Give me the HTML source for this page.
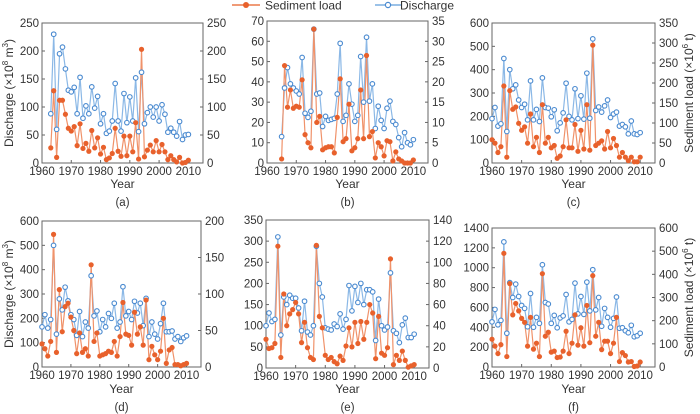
<!DOCTYPE html>
<html><head><meta charset="utf-8">
<style>
body{margin:0;background:#fff;}
svg{display:block;font-family:"Liberation Sans",Arial,sans-serif;}
</style></head>
<body>
<svg id="chart" width="700" height="414" viewBox="0 0 700 414">
  <g>
    <g>
      <line x1="232" y1="5" x2="260" y2="5" stroke="#ec7a4a" stroke-width="1.5"/>
      <circle cx="246" cy="5" r="3" fill="#e8612c"/>
      <text x="265" y="9.5" font-size="12" fill="#333">Sediment load</text>
    </g>
    <g>
      <line x1="375" y1="5" x2="402" y2="5" stroke="#7aaee0" stroke-width="1.5"/>
      <circle cx="388" cy="5" r="2.6" fill="#fff" stroke="#4a8ad0" stroke-width="1.2"/>
      <text x="400" y="9.5" font-size="12" fill="#333">Discharge</text>
    </g>
  </g>
</svg>
<script>
// Panel (a) 1963-2010
const disA=[88,230,60,195,207,168,130,127,135,88,153,80,102,88,136,98,119,70,88,53,57,75,142,75,57,124,72,118,75,152,56,162,70,90,100,82,100,75,104,87,55,62,55,48,74,42,50,51];
const sedA=[27,129,10,112,112,87,62,57,65,31,70,26,35,21,58,27,45,16,28,6,9,17,62,21,12,48,13,48,20,72,7,203,11,23,32,20,40,20,33,20,6,13,6,2,10,0,1,5];
// Panel (b) 1965-2010 (values in left-axis units)
const disB=[13,37,47,39,37,35.5,34,52,24.5,22.5,25.5,66,34,34.5,18,23,21,21.5,22,34,59,20.5,23.5,39,29,20.5,23.5,52.5,30,62,30.5,39,17,28,21,17,27,30.5,20.5,19,12.5,8,15,10,9,11.5];
const sedB=[2,48,27.5,36,27,28,27.5,41,14,10,7.5,66,20,23,6.5,7.5,8,8,5,22.5,41.5,10.5,12,29,6,7.5,12,36,12,53,13,15.5,2.5,10,8,3.5,11,10.5,1,5.5,2,1,0,0,0,1.5];
// Panel (c) 1960-2010
const disC=[190,238,158,168,448,135,400,318,335,270,238,252,185,352,185,230,178,365,238,235,198,228,138,172,215,342,200,185,318,190,288,188,385,192,532,225,240,218,245,270,195,210,218,158,165,155,125,180,125,122,130];
const sedC=[100,85,45,70,330,25,310,230,240,170,140,155,85,210,70,110,45,250,85,110,65,75,20,30,70,185,65,65,165,50,140,60,250,55,505,75,85,95,60,135,65,105,75,25,45,25,10,25,5,5,25];
// Panel (d) 1960-2010
const disD=[165,215,160,195,500,135,280,235,328,272,215,195,130,228,125,185,160,375,210,230,145,195,165,220,200,262,160,185,330,210,228,195,270,222,262,170,282,125,185,135,115,178,262,145,145,148,115,125,105,120,128];
const sedD=[95,75,45,105,545,60,318,145,248,262,205,150,55,140,60,75,45,420,105,140,45,50,55,65,60,105,45,125,265,135,130,90,225,135,165,90,275,30,85,50,30,65,200,15,70,80,10,10,5,10,15];
// Panel (e) 1960-2010
const disE=[100,130,110,115,310,78,168,150,172,165,165,142,88,158,85,78,100,288,200,168,95,92,90,104,98,128,92,115,195,135,193,155,200,150,185,185,180,65,163,100,90,97,225,88,82,60,102,118,72,72,80];
const sedE=[68,46,48,58,288,25,175,100,128,138,155,128,60,108,48,25,20,290,122,95,30,20,25,15,10,28,18,52,95,50,108,58,110,68,108,150,130,22,122,35,30,48,258,8,30,18,40,18,2,5,8];
// Panel (f) 1960-2010
const disF=[455,580,425,470,1260,340,850,700,835,710,620,590,405,740,400,500,440,1030,650,635,440,520,395,495,515,730,455,480,845,535,710,530,855,565,980,575,700,410,590,500,400,490,705,390,395,365,345,420,305,315,340];
const sedF=[280,210,135,225,1145,105,840,525,640,565,490,450,210,500,180,240,105,940,310,350,150,160,95,100,160,360,135,240,525,220,395,210,620,245,920,310,450,175,260,260,135,240,500,55,145,115,50,55,5,10,50];
const xTicks=[1960,1970,1980,1990,2000,2010];
const leftTicksA=[0,50,100,150,200,250], rightTicksA=[0,50,100,150,200,250];
const leftTicksB=[0,10,20,30,40,50,60,70], rightTicksB=[0,5,10,15,20,25,30,35];
const leftTicksC=[0,100,200,300,400,500,600], rightTicksC=[0,50,100,150,200,250,300,350];
const leftTicksD=[0,100,200,300,400,500,600], rightTicksD=[0,50,100,150,200];
const leftTicksE=[0,50,100,150,200,250,300,350], rightTicksE=[0,20,40,60,80,100,120,140];
const leftTicksF=[0,200,400,600,800,1000,1200,1400], rightTicksF=[0,100,200,300,400,500,600];

const NS='http://www.w3.org/2000/svg';
const svg=document.getElementById('chart');
function mk(tag,attrs,parent){const e=document.createElementNS(NS,tag);for(const k in attrs)e.setAttribute(k,attrs[k]);(parent||svg).appendChild(e);return e;}

const panels=[
 {id:'a',L:42,R:203,T:23,B:163,start:1963,dis:disA,sed:sedA,lt:leftTicksA,rt:rightTicksA,lab:'(a)',leftTitle:true,rightTitle:false,row:0},
 {id:'b',L:267,R:428,T:21,B:163,start:1965,dis:disB,sed:sedB,lt:leftTicksB,rt:rightTicksB,lab:'(b)',row:0},
 {id:'c',L:492,R:655,T:23,B:163,start:1960,dis:disC,sed:sedC,lt:leftTicksC,rt:rightTicksC,lab:'(c)',rightTitle:true,row:0},
 {id:'d',L:42,R:201,T:221,B:367,start:1960,dis:disD,sed:sedD,lt:leftTicksD,rt:rightTicksD,lab:'(d)',leftTitle:true,row:1},
 {id:'e',L:266,R:429,T:220,B:368,start:1960,dis:disE,sed:sedE,lt:leftTicksE,rt:rightTicksE,lab:'(e)',row:1},
 {id:'f',L:492,R:655,T:228,B:367,start:1960,dis:disF,sed:sedF,lt:leftTicksF,rt:rightTicksF,lab:'(f)',rightTitle:true,row:1}
];

panels.forEach(p=>{
  const g=mk('g',{});
  
  
  const lMax=p.lt[p.lt.length-1], rMax=p.rt[p.rt.length-1];
  const x=yr=>p.L+(yr-1960)/(2015-1960)*(p.R-p.L);
  const yl=v=>p.B-v/lMax*(p.B-p.T);
  const yr_=v=>p.B-v/rMax*(p.B-p.T);
  // frame
  const fr=mk('rect',{x:p.L,y:p.T,width:p.R-p.L,height:p.B-p.T,fill:'none',stroke:'#666','stroke-width':1},g);
  
  
  // x ticks
  xTicks.forEach(t=>{
    mk('line',{x1:x(t),y1:p.B,x2:x(t),y2:p.B-3,stroke:'#666'},g);
    const tx=mk('text',{x:x(t),y:p.B+12,'font-size':11.5,'text-anchor':'middle',fill:'#333'},g);
    tx.textContent=t;
    
    
  });
  p.lt.forEach(t=>{
    mk('line',{x1:p.L,y1:yl(t),x2:p.L+3,y2:yl(t),stroke:'#666'},g);
    const tx=mk('text',{x:p.L-3,y:yl(t)+4,'font-size':11.5,'text-anchor':'end',fill:'#333'},g);
    tx.textContent=t;
    
    
  });
  p.rt.forEach(t=>{
    mk('line',{x1:p.R,y1:yr_(t),x2:p.R-3,y2:yr_(t),stroke:'#666'},g);
    const tx=mk('text',{x:p.R+4,y:yr_(t)+4,'font-size':11.5,'text-anchor':'start',fill:'#333'},g);
    tx.textContent=t;
    
    
  });
  const cx=(p.L+p.R)/2;
  const xt=mk('text',{x:cx,y:p.row?393:188,'font-size':12,'text-anchor':'middle',fill:'#333'},g);
  xt.textContent='Year';
  
  
  const pl=mk('text',{x:cx,y:p.row?411:206,'font-size':11.5,'text-anchor':'middle',fill:'#333'},g);
  pl.textContent=p.lab;
  
  
  const my=(p.T+p.B)/2;
  if(p.leftTitle){
    const t=mk('text',{x:0,y:0,'font-size':12,'text-anchor':'middle',fill:'#333',transform:`translate(13,${my}) rotate(-90)`},g);
    t.innerHTML='Discharge (×10<tspan font-size="8" dy="-5">8</tspan><tspan dy="5"> m</tspan><tspan font-size="8" dy="-5">3</tspan><tspan dy="5">)</tspan>';
    
    
  }
  if(p.rightTitle){
    const t=mk('text',{x:0,y:0,'font-size':12,'text-anchor':'middle',fill:'#333',transform:`translate(693,${my}) rotate(-90)`},g);
    t.innerHTML='Sediment load (×10<tspan font-size="8" dy="-5">6</tspan><tspan dy="5"> t)</tspan>';
    
    
  }
  // discharge series (left axis)
  const dPts=p.dis.map((v,i)=>[x(p.start+i),yl(v)]);
  const dl=mk('polyline',{points:dPts.map(q=>q.join(',')).join(' '),fill:'none',stroke:'#8bb8e6','stroke-width':1.2},g);
  
  
  // sediment series (values read in left-axis units)
  const sPts=p.sed.map((v,i)=>[x(p.start+i),yl(v)]);
  const sl=mk('polyline',{points:sPts.map(q=>q.join(',')).join(' '),fill:'none',stroke:'#f0926a','stroke-width':1.2},g);
  
  
  dPts.forEach(q=>{
    const c=mk('circle',{cx:q[0],cy:q[1],r:2.3,fill:'#fff',stroke:'#4a8ad0','stroke-width':1.1},g);
    
    
  });
  sPts.forEach(q=>{
    const c=mk('circle',{cx:q[0],cy:q[1],r:2.6,fill:'#e8612c'},g);
    
    
  });
});
</script>
</body></html>
